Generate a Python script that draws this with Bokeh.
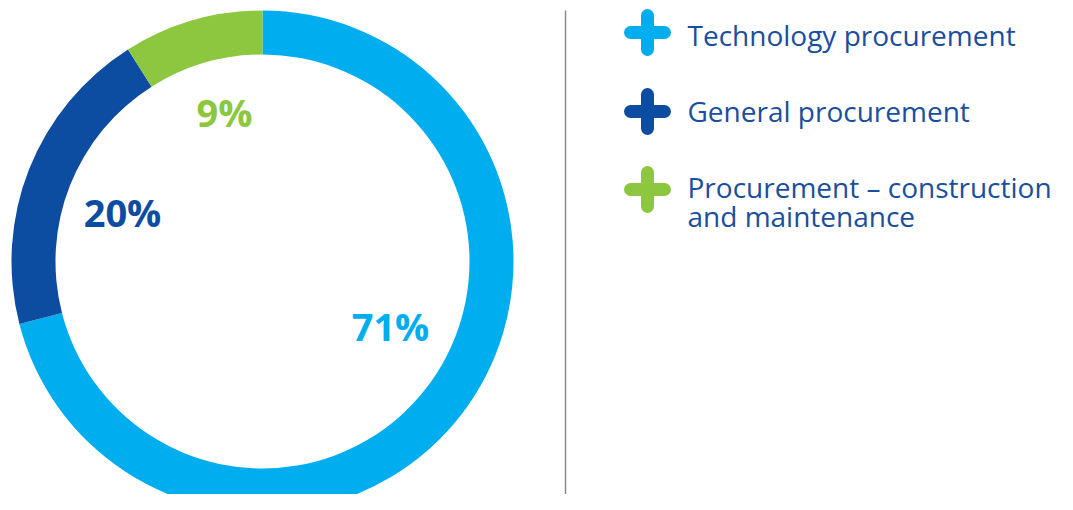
import math
from bokeh.plotting import figure
from bokeh.models import Range1d, ColumnDataSource
from bokeh.core.properties import value
from bokeh.embed import file_html
from bokeh.resources import INLINE

# ---- data ----
categories = ["Technology procurement", "General procurement", "Procurement \u2013 construction\nand maintenance"]
shares = [71, 20, 9]
labels = ["71%", "20%", "9%"]
colors = ["#00AEEF", "#0D4DA1", "#8DC63F"]

# ---- layout (1 data unit = 1 px; y measured from top of picture) ----
W, H = 1057, 494
TOP = 510
def sy(y):
    return TOP - y

cx, cy = 262, sy(261)
r_out, r_in = 251, 207

total = sum(shares)
cum = [0]
for s in shares:
    cum.append(cum[-1] + s)
start = [math.pi / 2 - 2 * math.pi * cum[i] / total for i in range(len(shares))]
end = [math.pi / 2 - 2 * math.pi * cum[i + 1] / total for i in range(len(shares))]

p = figure(width=W, height=H, output_backend="svg", toolbar_location=None,
           x_range=Range1d(0, W), y_range=Range1d(TOP - H, TOP),
           min_border=0, outline_line_color=None)
p.axis.visible = False
p.grid.visible = False
p.background_fill_color = "white"
p.border_fill_color = "white"

src = ColumnDataSource(dict(start=start, end=end, color=colors))
p.annular_wedge(x=cx, y=cy, inner_radius=r_in, outer_radius=r_out,
                start_angle="start", end_angle="end", direction="clock",
                fill_color="color", line_color=None, source=src)

# percentage labels (visual centres)
lab_x = [390, 122, 224]
lab_y = [sy(325), sy(211), sy(111)]
p.text(x=lab_x, y=lab_y, text=labels, text_color=colors,
       text_font=value("Open Sans"), text_font_size="38px", text_font_style="bold",
       text_align="center", text_baseline="middle")

# divider
p.segment(x0=[565], y0=[sy(10)], x1=[565], y1=[sy(512)], line_color="#8a8a8a", line_width=1.5)

# legend
icon_x = 647
icon_y = [sy(32), sy(111), sy(189)]
arm = 17
p.segment(x0=[icon_x - arm] * 3, y0=icon_y, x1=[icon_x + arm] * 3, y1=icon_y,
          line_color=colors, line_width=13, line_cap="round")
p.segment(x0=[icon_x] * 3, y0=[y - arm for y in icon_y], x1=[icon_x] * 3, y1=[y + arm for y in icon_y],
          line_color=colors, line_width=13, line_cap="round")

text_y = [sy(34), sy(110), sy(201)]
p.text(x=[687] * 3, y=text_y, text=categories, text_color="#1A4E9E",
       text_font=value("Open Sans"), text_font_size="28px",
       text_align="left", text_baseline="middle", text_line_height=0.76)

open("out.html", "w").write(file_html(p, INLINE))
